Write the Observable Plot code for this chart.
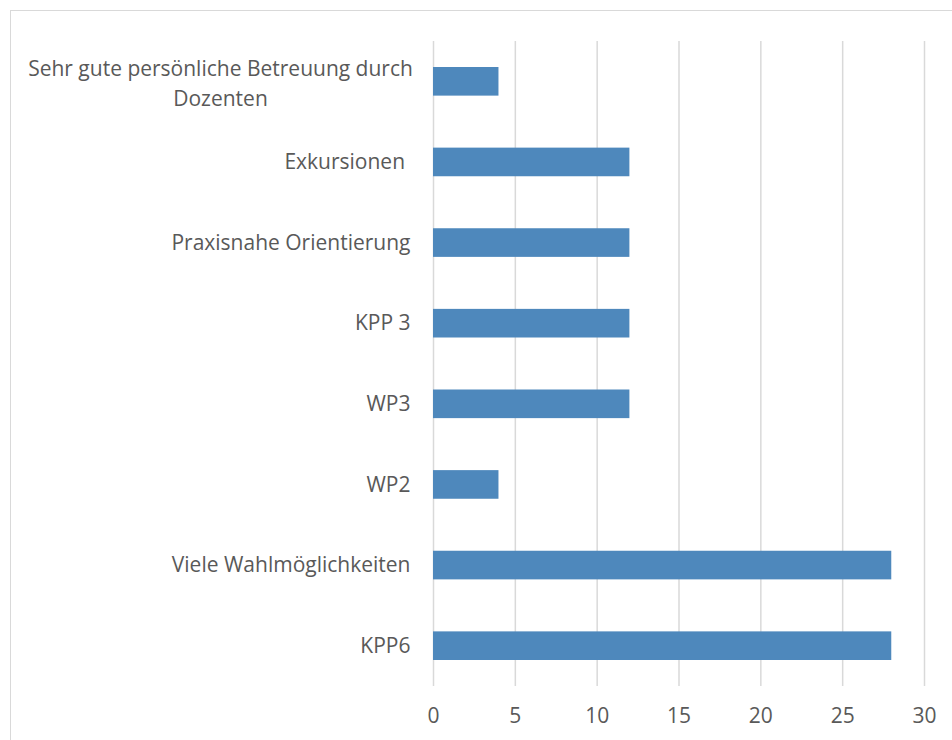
<!DOCTYPE html>
<html>
<head>
<meta charset="utf-8">
<script src="https://cdn.jsdelivr.net/npm/d3@7"></script>
<script src="https://cdn.jsdelivr.net/npm/@observablehq/plot@0.6"></script>
<style>
  html, body { margin: 0; padding: 0; background: #fff; overflow: hidden; width: 952px; height: 740px; }
  #frame { position: absolute; left: 10px; top: 10px; width: 1000px; height: 1000px; border: 1px solid #d9d9d9; }
  #chart { position: absolute; left: 0; top: 0; }
</style>
</head>
<body>
<div id="frame"></div>
<div id="chart"></div>
<script>
const categories = [
  "Sehr gute persönliche Betreuung durch Dozenten",
  "Exkursionen ",
  "Praxisnahe Orientierung",
  "KPP 3",
  "WP3",
  "WP2",
  "Viele Wahlmöglichkeiten",
  "KPP6"
];
const values = [4, 12, 12, 12, 12, 4, 28, 28];
const xTicks = [0, 5, 10, 15, 20, 25, 30];
const wrappedLabels = {
  "Sehr gute persönliche Betreuung durch Dozenten": "Sehr gute persönliche Betreuung durch\nDozenten"
};

const data = categories.map((c, i) => ({category: c, value: values[i]}));
const longCats = categories.filter(c => wrappedLabels[c]);

const font = "'Open Sans', Lato, sans-serif";
const fs = 21;
const chart = Plot.plot({
  width: 952,
  height: 740,
  marginLeft: 433,
  marginRight: 28,
  marginTop: 41,
  marginBottom: 54,
  style: {fontFamily: font, fontSize: fs + "px", color: "#595959", background: "transparent"},
  x: {domain: [0, 30], ticks: xTicks, label: null},
  y: {domain: categories, paddingInner: 0.645, paddingOuter: 0.3225, round: false, label: null},
  marks: [
    Plot.gridX(xTicks, {stroke: "#d9d9d9", strokeWidth: 1.5, strokeOpacity: 1}),
    Plot.barX(data, {x: "value", y: "category", fill: "#4e88bc"}),
    Plot.axisX(xTicks, {tickSize: 0, tickPadding: 22, fontSize: fs, fill: "#595959", label: null}),
    Plot.axisY({tickSize: 0, tickPadding: 23, fontSize: fs, fill: "#595959", label: null,
      tickFormat: d => wrappedLabels[d] ? "" : d}),
    Plot.text(longCats, {
      y: d => d, frameAnchor: "left", text: d => wrappedLabels[d],
      textAnchor: "middle", dx: -213, lineHeight: 1.43, fontSize: fs, fill: "#595959"
    })
  ]
});
document.getElementById("chart").appendChild(chart);
</script>
</body>
</html>
